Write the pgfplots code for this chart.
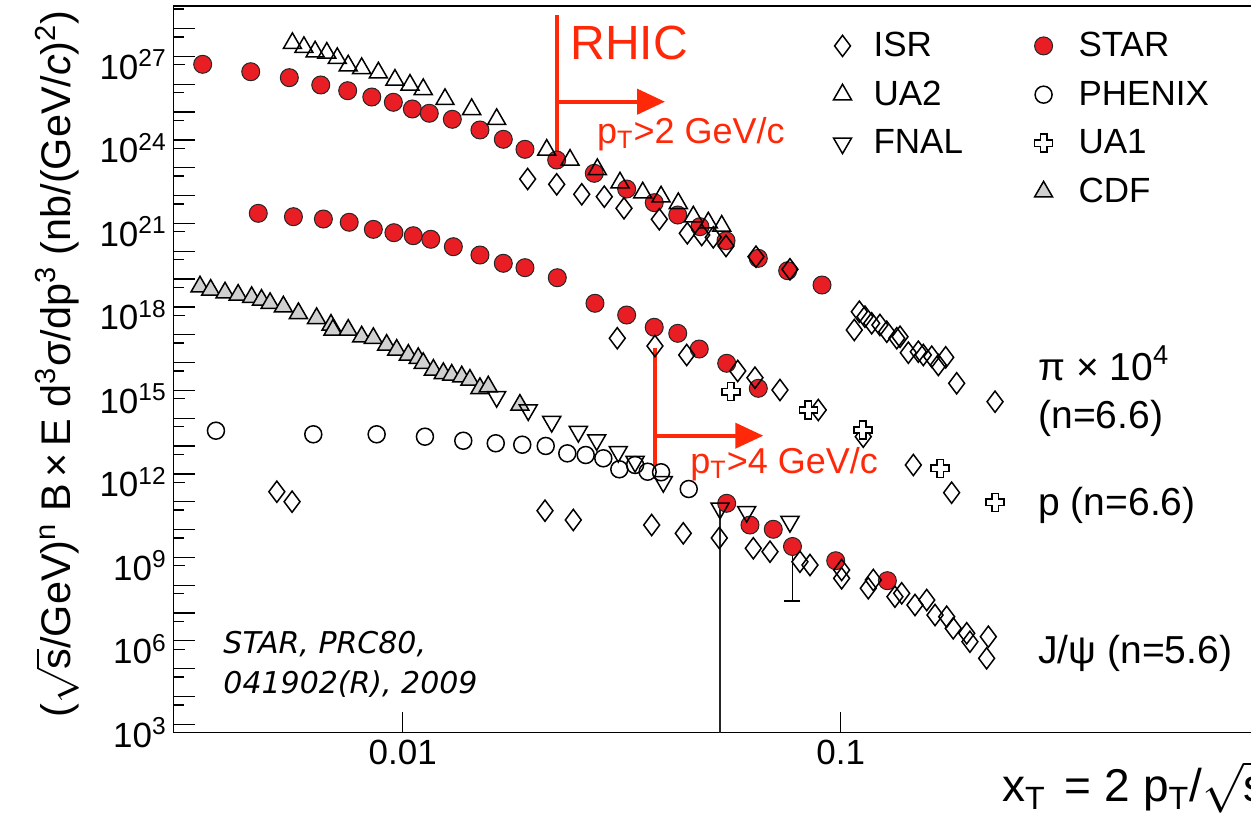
\documentclass[border=0pt]{standalone}
\usepackage{fontspec}
\setmainfont{Liberation Sans}
\newfontfamily\dejavu{DejaVu Sans}
\usepackage{pgfplots}
\pgfplotsset{compat=1.18}
\usetikzlibrary{arrows.meta}
\definecolor{starred}{RGB}{232,30,36}
\definecolor{rhicred}{RGB}{255,40,8}
\definecolor{cdfgray}{RGB}{208,208,208}
\newcommand{\sqrts}{\ensuremath{\sqrt{\mbox{s}}}}
\pgfdeclareplotmark{ocross}{%
  \pgfpathmoveto{\pgfqpoint{-0.36\pgfplotmarksize}{\pgfplotmarksize}}%
  \pgfpathlineto{\pgfqpoint{0.36\pgfplotmarksize}{\pgfplotmarksize}}%
  \pgfpathlineto{\pgfqpoint{0.36\pgfplotmarksize}{0.36\pgfplotmarksize}}%
  \pgfpathlineto{\pgfqpoint{\pgfplotmarksize}{0.36\pgfplotmarksize}}%
  \pgfpathlineto{\pgfqpoint{\pgfplotmarksize}{-0.36\pgfplotmarksize}}%
  \pgfpathlineto{\pgfqpoint{0.36\pgfplotmarksize}{-0.36\pgfplotmarksize}}%
  \pgfpathlineto{\pgfqpoint{0.36\pgfplotmarksize}{-\pgfplotmarksize}}%
  \pgfpathlineto{\pgfqpoint{-0.36\pgfplotmarksize}{-\pgfplotmarksize}}%
  \pgfpathlineto{\pgfqpoint{-0.36\pgfplotmarksize}{-0.36\pgfplotmarksize}}%
  \pgfpathlineto{\pgfqpoint{-\pgfplotmarksize}{-0.36\pgfplotmarksize}}%
  \pgfpathlineto{\pgfqpoint{-\pgfplotmarksize}{0.36\pgfplotmarksize}}%
  \pgfpathlineto{\pgfqpoint{-0.36\pgfplotmarksize}{0.36\pgfplotmarksize}}%
  \pgfpathclose
  \pgfusepathqfillstroke}
\pgfplotsset{
  myleg/.style={legend image code/.code={%
      \path[draw=none,fill=none] (0pt,-6pt) rectangle (16pt,6pt);
      \draw[mark repeat=2,mark phase=2,##1] plot coordinates {(0pt,0pt) (8pt,0pt) (16pt,0pt)};}},
  star/.style={only marks, mark=*, mark size=4.5pt, mark options={fill=starred, draw=black!85, line width=0.5pt}, myleg},
  phenix/.style={only marks, mark=o, mark size=4.25pt, mark options={draw=black, line width=0.75pt}, myleg},
  isr/.style={only marks, mark=diamond, mark size=5.3pt, mark options={draw=black, line width=0.75pt}, myleg},
  ua2/.style={only marks, mark=triangle, mark size=5.2pt, mark options={draw=black, line width=0.75pt}, myleg},
  fnal/.style={only marks, mark=triangle, mark size=5.2pt, mark options={draw=black, line width=0.75pt, rotate=180}, myleg},
  cdf/.style={only marks, mark=triangle*, mark size=5.2pt, mark options={fill=cdfgray, draw=black, line width=0.75pt}, myleg},
  ua1/.style={only marks, mark=ocross, mark size=4.5pt, mark options={fill=white, draw=black, line width=0.75pt}, myleg},
}
\begin{document}
\begin{tikzpicture}
\begin{axis}[
  name=ax, at={(0,0)}, anchor=south west, scale only axis,
  width=552.5pt, height=363.35pt,
  xmode=log, ymode=log,
  xmin=0.003, xmax=1, ymin=1e3, ymax=1.295e29,
  axis line style={line width=0.65pt, black},
  tick style={line width=0.65pt, black},
  tick align=inside, tick pos=left,
  major tick length=5.8pt, minor tick length=5pt,
  xtick=\empty,
  minor xtick={0.004,0.005,0.006,0.007,0.008,0.009,0.02,0.03,0.04,0.05,0.06,0.07,0.08,0.09,0.2,0.3,0.4,0.5,0.6,0.7,0.8,0.9},
  extra x ticks={0.01,0.1},
  extra x tick labels={0.01,0.1},
  extra x tick style={major tick length=10.5pt},
  ytick={1e3,1e6,1e9,1e12,1e15,1e18,1e21,1e24,1e27},
  yticklabels={10\textsuperscript{3},10\textsuperscript{6},10\textsuperscript{9},10\textsuperscript{12},10\textsuperscript{15},10\textsuperscript{18},10\textsuperscript{21},10\textsuperscript{24},10\textsuperscript{27}},
  minor ytick={1e4,1e5,1e7,1e8,1e10,1e11,1e13,1e14,1e16,1e17,1e19,1e20,1e22,1e23,1e25,1e26,1e28,1e29},
  extra y ticks={2e3,2e4,2e5,2e6,2e7,2e8,2e9,2e10,2e11,2e12,2e13,2e14,2e15,2e16,2e17,2e18,2e19,2e20,2e21,2e22,2e23,2e24,2e25,2e26,2e27,2e28},
  extra y tick labels={},
  extra y tick style={major tick length=10.8pt},
  tick label style={font=\fontsize{17.5}{20}\selectfont},
  xticklabel style={anchor=north, inner sep=0pt, yshift=-3.6pt},
  yticklabel style={anchor=east, inner sep=0pt, xshift=-3.3pt},
  xlabel={x\textsubscript{T}\hspace{0.4em}=\hspace{0.3em}2 p\textsubscript{T}/\sqrts},
  xlabel style={at={(axis description cs:0.7493,-0.09495)}, anchor=base west, inner sep=0pt, font=\fontsize{23}{27}\selectfont},
  ylabel={(\sqrts/GeV)\textsuperscript{n} B\,×\,E d\textsuperscript{3}σ/dp\textsuperscript{3} (nb/(GeV/\textit{c})\textsuperscript{2})},
  ylabel style={at={(axis description cs:-0.0935,0.99449)}, anchor=base east, inner sep=0pt, font=\fontsize{20.7}{25}\selectfont},
  legend columns=2, legend cell align=left,
  legend style={draw=none, fill=none, at={(0.585,0.970)}, anchor=north west,
    font=\fontsize{17.5}{20}\selectfont, row sep=10.65pt, column sep=0pt,
    nodes={inner sep=0pt},
    /tikz/column 1/.style={column sep=7.5pt},
    /tikz/column 2/.style={column sep=32.3pt},
    /tikz/column 3/.style={column sep=9.5pt}},
]
% STAR pion, proton, J/psi
\addplot[star, forget plot] coordinates {(3.494e-3,1.04e27) (4.498e-3,5.63e26) (5.51e-3,3.44e26) (6.50e-3,1.88e26) (7.49e-3,1.17e26) (8.50e-3,6.95e25) (9.52e-3,4.49e25) (1.052e-2,2.58e25) (1.150e-2,1.81e25) (1.298e-2,1.10e25) (1.501e-2,4.54e24) (1.697e-2,2.10e24) (1.902e-2,9.18e23) (2.247e-2,3.79e23) (2.738e-2,1.26e23) (3.246e-2,3.43e22) (3.753e-2,1.11e22) (4.246e-2,4.00e21) (4.772e-2,1.52e21) (5.472e-2,4.77e20) (6.485e-2,1.11e20) (7.568e-2,3.99e19) (9.064e-2,1.22e19)};
\addplot[star, forget plot] coordinates {(4.68e-3,4.60e21) (5.63e-3,3.48e21) (6.59e-3,2.87e21) (7.55e-3,2.19e21) (8.57e-3,1.22e21) (9.55e-3,9.25e20) (1.057e-2,7.21e20) (1.159e-2,5.36e20) (1.305e-2,2.90e20) (1.501e-2,1.46e20) (1.697e-2,7.36e19) (1.902e-2,5.12e19) (2.254e-2,2.23e19) (2.748e-2,2.69e18) (3.246e-2,1.02e18) (3.753e-2,3.69e17) (4.246e-2,2.24e17) (4.754e-2,6.12e16) (5.492e-2,1.88e16) (6.485e-2,2.37e15)};
\addplot[star, forget plot] coordinates {(5.492e-2,1.75e11) (6.207e-2,2.90e10) (7.016e-2,2.04e10) (9.741e-2,1.51e9) (0.1278,2.90e8)};
\addplot[star, forget plot, error bars/.cd, y dir=minus, y explicit, error bar style={line width=0.8pt, black}, error mark options={line width=0.8pt, black, mark size=4pt, rotate=90}] coordinates {(7.762e-2,4.91e9) -= (0,4.856e9)};
% FNAL error line
\addplot[forget plot, no markers, black!85, line width=0.6pt] coordinates {(5.302e-2,1.16e11) (5.302e-2,1e2)};
% CDF
\addplot[cdf, forget plot] coordinates {(3.445e-3,1.06e19) (3.644e-3,8.07e18) (3.93e-3,6.46e18) (4.21e-3,5.34e18) (4.52e-3,4.42e18) (4.76e-3,3.53e18) (4.98e-3,2.69e18) (5.34e-3,2.03e18) (5.78e-3,1.17e18) (6.36e-3,7.76e17) (6.86e-3,4.47e17) (6.93e-3,2.95e17) (7.51e-3,2.95e17) (8.06e-3,1.69e17) (8.57e-3,1.49e17) (9.19e-3,8.53e16) (9.69e-3,5.64e16) (1.030e-2,3.73e16) (1.085e-2,2.84e16) (1.114e-2,1.88e16) (1.175e-2,1.08e16) (1.238e-2,8.20e15) (1.294e-2,7.13e15) (1.364e-2,6.19e15) (1.424e-2,4.71e15) (1.501e-2,2.37e15) (1.568e-2,2.71e15) (1.852e-2,5.96e14)};
% UA2
\addplot[ua2, forget plot] coordinates {(5.60e-3,5.92e27) (5.95e-3,4.25e27) (6.31e-3,2.95e27) (6.71e-3,2.65e27) (7.09e-3,1.71e27) (7.51e-3,9.27e26) (8.06e-3,7.47e26) (8.80e-3,5.19e26) (9.60e-3,2.84e26) (1.039e-2,1.88e26) (1.114e-2,1.31e26) (1.249e-2,5.75e25) (1.437e-2,2.51e25) (1.639e-2,1.10e25) (2.132e-2,8.67e23) (2.410e-2,3.79e23) (2.782e-2,1.75e23) (3.134e-2,5.79e22) (3.532e-2,2.53e22) (3.890e-2,1.82e22) (4.258e-2,1.05e22) (4.608e-2,3.48e21) (4.986e-2,2.12e21) (5.350e-2,1.61e21)};
% FNAL
\addplot[fnal, forget plot] coordinates {(1.639e-2,1.18e15) (1.935e-2,3.94e14) (2.189e-2,1.50e14) (2.518e-2,6.55e13) (2.773e-2,3.29e13) (3.106e-2,1.25e13) (3.393e-2,5.47e12) (3.936e-2,1.04e12) (5.302e-2,1.16e11) (6.10e-2,8.73e10) (7.660e-2,3.82e10)};
% PHENIX
\addplot[phenix, forget plot] coordinates {(3.747e-3,7.11e13) (6.25e-3,5.27e13) (8.72e-3,5.27e13) (1.124e-2,4.33e13) (1.375e-2,3.10e13) (1.631e-2,2.51e13) (1.875e-2,2.23e13) (2.121e-2,2.01e13) (2.376e-2,1.09e13) (2.617e-2,9.51e12) (2.871e-2,7.24e12) (3.123e-2,2.92e12) (3.393e-2,4.16e12) (3.625e-2,2.39e12) (3.890e-2,2.28e12) (4.498e-2,5.71e11)};
% ISR pion, proton, J/psi
\addplot[isr, forget plot] coordinates {(1.929e-2,7.87e22) (2.247e-2,5.07e22) (2.563e-2,2.22e22) (2.886e-2,1.82e22) (3.201e-2,6.97e21) (3.854e-2,2.81e21) (4.465e-2,8.81e20) (4.816e-2,7.66e20) (5.118e-2,6.32e20) (5.472e-2,3.08e20) (6.406e-2,1.27e20) (7.660e-2,4.48e19) (0.1074,2.95e17) (0.1103,1.34e18) (0.1136,8.87e17) (0.1177,5.14e17) (0.1229,4.47e17) (0.1274,2.56e17) (0.1343,1.49e17) (0.1366,1.69e17) (0.1427,4.51e16) (0.1504,4.90e16) (0.1544,3.73e16) (0.1614,3.24e16) (0.1671,1.63e16) (0.1737,3.08e16) (0.1840,3.59e15) (0.2251,7.83e14)};
\addplot[isr, forget plot] coordinates {(3.090e-2,1.49e17) (3.767e-2,7.85e16) (4.451e-2,3.73e16) (5.820e-2,9.93e15) (6.372e-2,5.70e15) (7.267e-2,2.06e15) (8.889e-2,3.94e14) (0.1126,4.33e13) (0.1465,4.16e12) (0.1792,4.21e11)};
\addplot[isr, forget plot] coordinates {(5.16e-3,4.57e11) (5.59e-3,2.00e11) (2.113e-2,9.49e10) (2.452e-2,4.40e10) (3.702e-2,2.90e10) (4.371e-2,1.46e10) (5.283e-2,9.91e9) (6.317e-2,4.23e9) (6.896e-2,3.19e9) (8.071e-2,1.39e9) (8.509e-2,1.06e9) (0.1005,7.01e8) (0.1005,3.53e8) (0.1156,1.55e8) (0.1187,3.07e8) (0.1330,7.71e7) (0.1378,1.02e8) (0.1478,3.88e7) (0.1572,5.86e7) (0.1642,1.69e7) (0.1746,1.47e7) (0.1807,5.64e6) (0.1940,3.73e6) (0.1973,1.86e6) (0.2173,2.82e6) (0.2154,4.71e5)};
% UA1
\addplot[ua1, forget plot] coordinates {(5.617e-2,1.79e15) (8.433e-2,3.94e14) (0.1123,7.53e13) (0.1686,3.17e12) (0.2251,1.90e11)};
% legend
\addlegendimage{isr}\addlegendentry{ISR}
\addlegendimage{star}\addlegendentry{STAR}
\addlegendimage{ua2}\addlegendentry{UA2}
\addlegendimage{phenix}\addlegendentry{PHENIX}
\addlegendimage{fnal}\addlegendentry{FNAL}
\addlegendimage{ua1}\addlegendentry{UA1}
\addlegendimage{empty legend}\addlegendentry{}
\addlegendimage{cdf}\addlegendentry{CDF}
% RHIC annotations
\draw[rhicred, line width=2.2pt] (axis cs:2.247e-2,6.15e28) -- (axis cs:2.247e-2,3.79e23);
\draw[rhicred, line width=2.2pt, -{Triangle[length=14pt,width=12.5pt]}] (axis cs:2.247e-2,4.71e25) -- (axis cs:3.971e-2,4.71e25);
\draw[rhicred, line width=2pt] (axis cs:3.767e-2,6.65e16) -- (axis cs:3.767e-2,4.16e12);
\draw[rhicred, line width=2pt, -{Triangle[length=14pt,width=12.5pt]}] (axis cs:3.767e-2,4.70e13) -- (axis cs:6.658e-2,4.70e13);
\node[rhicred, anchor=base west, inner sep=0pt, font=\fontsize{24}{28}\selectfont] at (axis cs:2.410e-2,1.49e27) {RHIC};
\node[rhicred, anchor=base west, inner sep=0pt, font=\fontsize{18}{21}\selectfont] at (axis cs:2.773e-2,1.51e24) {p\textsubscript{T}>2 GeV/c};
\node[rhicred, anchor=base west, inner sep=0pt, font=\fontsize{18}{21}\selectfont] at (axis cs:4.529e-2,2.09e12) {p\textsubscript{T}>4 GeV/c};
% right labels
\node[anchor=base west, inner sep=0pt, font=\fontsize{19.5}{23}\selectfont] at (axis cs:0.2822,4.71e15) {π × 10\textsuperscript{4}};
\node[anchor=base west, inner sep=0pt, font=\fontsize{19.5}{23}\selectfont] at (axis cs:0.2822,8.67e13) {(n=6.6)};
\node[anchor=base west, inner sep=0pt, font=\fontsize{19.5}{23}\selectfont] at (axis cs:0.2822,6.64e10) {p (n=6.6)};
\node[anchor=base west, inner sep=0pt, font=\fontsize{19.5}{23}\selectfont] at (axis cs:0.2822,3.12e5) {J/ψ (n=5.6)};
% reference
\node[anchor=base west, inner sep=0pt, font=\dejavu\itshape\fontsize{15}{18}\selectfont] at (axis cs:3.89e-3,7.13e5) {STAR, PRC80,};
\node[anchor=base west, inner sep=0pt, font=\dejavu\itshape\fontsize{15}{18}\selectfont] at (axis cs:3.89e-3,2.61e4) {041902(R), 2009};
\end{axis}
\pgfresetboundingbox
\useasboundingbox (-86.85pt,-40.65pt) rectangle (538.65pt,366.35pt);
\end{tikzpicture}
\end{document}
